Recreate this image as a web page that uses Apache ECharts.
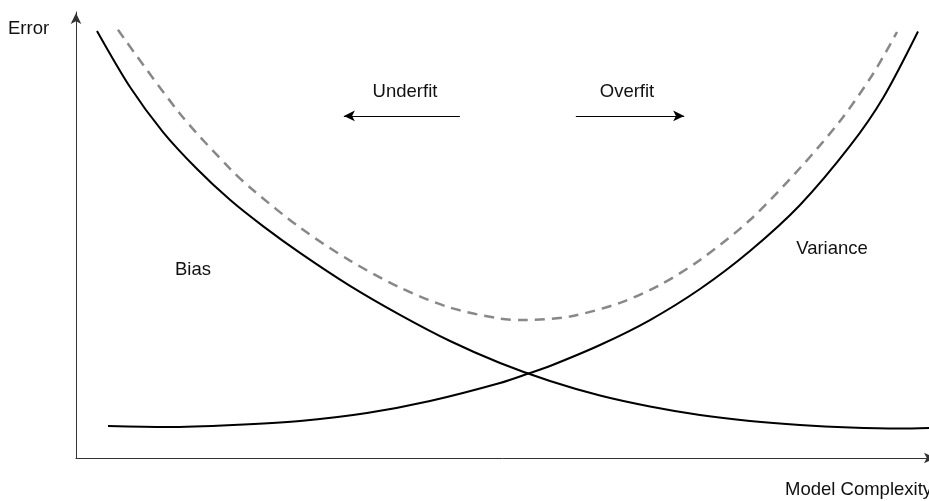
<!DOCTYPE html>
<html>
<head>
<meta charset="utf-8">
<script src="https://cdn.jsdelivr.net/npm/echarts@6/dist/echarts.min.js"></script>
<style>html,body{margin:0;padding:0;background:#fff;}#c{width:929px;height:501px;}</style>
</head>
<body>
<div id="c"></div>
<script>
// Bias curve (decreasing)
var biasX = [2.46, 6.33, 10.20, 14.19, 18.05, 21.92, 26.26, 32.12, 37.98, 43.85, 49.71, 55.57, 61.43, 67.29, 73.15, 79.01, 84.88, 90.74, 96.60, 100];
var biasY = [95.74, 83.18, 73.09, 64.80, 57.90, 52.00, 46.00, 38.60, 32.10, 26.23, 21.30, 17.26, 14.01, 11.55, 9.64, 8.30, 7.40, 6.84, 6.61, 6.73];
// Variance curve (increasing)
var varX = [3.75, 10.67, 18.41, 26.26, 34.11, 41.50, 49.71, 53.22, 55.57, 61.43, 67.29, 73.15, 79.01, 84.88, 90.74, 94.61, 98.71];
var varY = [7.17, 6.95, 7.40, 8.30, 10.09, 12.78, 16.82, 19.06, 20.63, 25.34, 30.94, 37.89, 46.41, 56.73, 69.96, 80.72, 95.63];
// Total error (dashed)
var totX = [4.92, 12.19, 18.05, 20.75, 26.26, 32.12, 37.98, 43.85, 49.71, 52.64, 57.91, 63.77, 68.46, 73.15, 79.01, 84.88, 89.57, 93.43, 96.25];
var totY = [96.0, 77.2, 64.87, 60.09, 51.66, 44.26, 38.21, 33.72, 31.26, 30.94, 31.75, 34.78, 38.81, 44.39, 53.36, 65.02, 75.56, 86.10, 95.52];
// Annotation arrows [x1, x2, y]
var underfitArrow = [45.0, 31.4, 76.7];
var overfitArrow = [58.6, 71.3, 76.7];

function pairs(xs, ys) { return xs.map(function (x, i) { return [x, ys[i]]; }); }

var font = '"Liberation Sans", Arial, Helvetica, sans-serif';
var fs = 18.5;
var chart = echarts.init(document.getElementById('c'));
chart.setOption({
  backgroundColor: '#fff',
  animation: false,
  grid: { left: 76, right: 0, top: 12, bottom: 43 },
  xAxis: {
    type: 'value', min: 0, max: 100,
    axisLine: { show: true, lineStyle: { color: '#333', width: 1 }, symbol: ['none', 'arrow'], symbolSize: [8, 11], symbolOffset: [0, 6] },
    axisTick: { show: false }, axisLabel: { show: false }, splitLine: { show: false }
  },
  yAxis: {
    type: 'value', min: 0, max: 100,
    axisLine: { show: true, lineStyle: { color: '#333', width: 1 }, symbol: ['none', 'arrow'], symbolSize: [8, 11], symbolOffset: [0, -1] },
    axisTick: { show: false }, axisLabel: { show: false }, splitLine: { show: false }
  },
  series: [
    { type: 'line', data: pairs(biasX, biasY), smooth: 0.3, showSymbol: false, lineStyle: { color: '#000', width: 2 } },
    { type: 'line', data: pairs(varX, varY), smooth: 0.3, showSymbol: false, lineStyle: { color: '#000', width: 2 } },
    { type: 'line', data: pairs(totX, totY), smooth: 0.3, showSymbol: false, lineStyle: { color: '#888', width: 2.5, type: [10, 7] },
      markLine: {
        silent: true, symbol: ['none', 'arrow'], symbolSize: [8, 11],
        label: { show: false },
        lineStyle: { color: '#000', width: 1.2, type: 'solid' },
        data: [
          [{ coord: [underfitArrow[0], underfitArrow[2]] }, { coord: [underfitArrow[1], underfitArrow[2]] }],
          [{ coord: [overfitArrow[0], overfitArrow[2]] }, { coord: [overfitArrow[1], overfitArrow[2]] }]
        ]
      }
    }
  ],
  graphic: [
    { type: 'text', left: 8, top: 19, style: { text: 'Error', font: fs + 'px ' + font, fill: '#111' } },
    { type: 'text', left: 785, top: 480, style: { text: 'Model Complexity', font: fs + 'px ' + font, fill: '#111' } },
    { type: 'text', x: 405, y: 92, style: { text: 'Underfit', font: fs + 'px ' + font, fill: '#111', align: 'center', verticalAlign: 'middle' } },
    { type: 'text', x: 627, y: 92, style: { text: 'Overfit', font: fs + 'px ' + font, fill: '#111', align: 'center', verticalAlign: 'middle' } },
    { type: 'text', x: 193, y: 270, style: { text: 'Bias', font: fs + 'px ' + font, fill: '#111', align: 'center', verticalAlign: 'middle' } },
    { type: 'text', x: 832, y: 249, style: { text: 'Variance', font: fs + 'px ' + font, fill: '#111', align: 'center', verticalAlign: 'middle' } }
  ]
});
</script>
</body>
</html>
